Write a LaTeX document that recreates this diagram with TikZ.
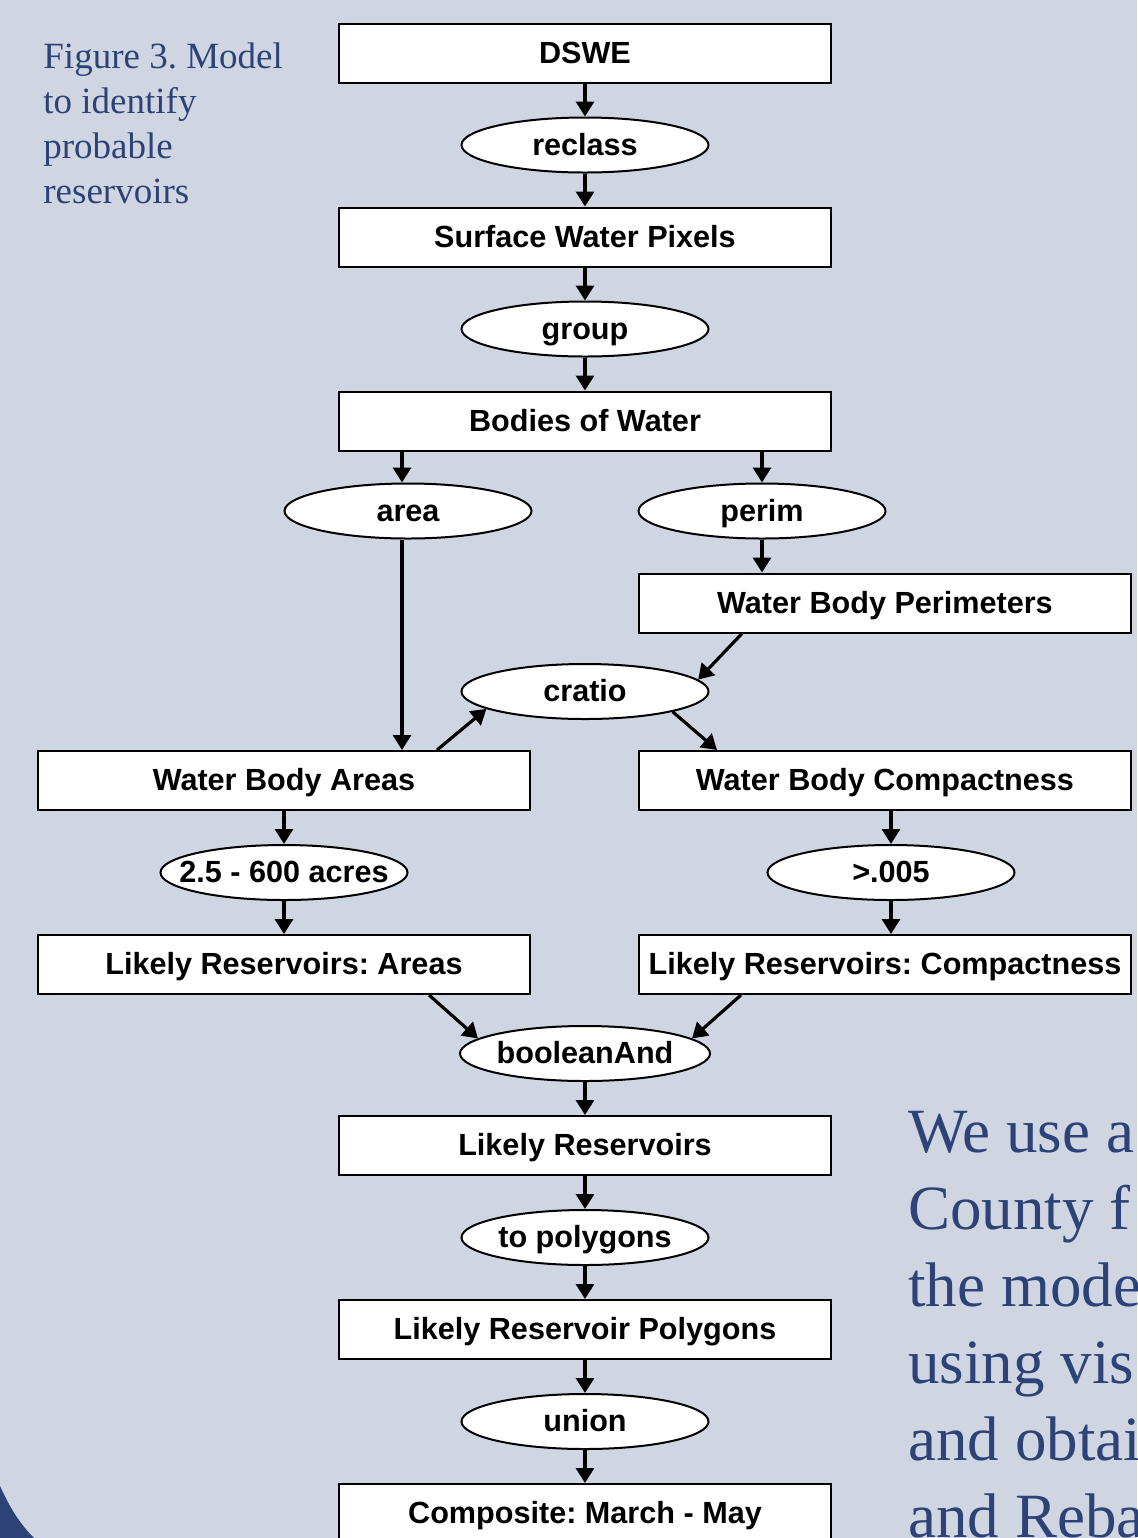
\documentclass[tikz,border=0pt]{standalone}
\usepackage{fontspec}
\setmainfont{Liberation Serif}
\setsansfont{Liberation Sans}
\usetikzlibrary{positioning,shapes.geometric,arrows.meta}
\frenchspacing

\definecolor{slide}{RGB}{208,213,226}
\definecolor{ink}{RGB}{45,67,120}

\tikzset{
  dataset/.style={draw, line width=1pt, fill=white, rectangle, inner sep=0pt,
    text height=10pt, text depth=0pt,
    minimum width=246pt, minimum height=29.5pt, font=\sffamily\bfseries\fontsize{15.3}{18}\selectfont},
  tool/.style={draw, line width=1pt, fill=white, ellipse, inner sep=0pt,
    text height=10pt, text depth=0pt,
    minimum width=123.5pt, minimum height=27.5pt, font=\sffamily\bfseries\fontsize{15.3}{18}\selectfont},
  flow/.style={line width=1.6pt, -{Triangle[width=9pt,length=7.5pt]}},
  note/.style={ink, align=left, inner sep=0pt, anchor=north west}
}

\begin{document}
\begin{tikzpicture}[x=0.5pt, y=-0.5pt, node distance=16.5pt]

  \useasboundingbox (0,0) rectangle (1137,1538);
  \clip (0,0) rectangle (1137,1538);
  \fill[slide] (0,0) rectangle (1137,1538);
  \fill[ink] (0,1486) .. controls (10,1508) and (20,1524) .. (34,1538) -- (0,1538) -- cycle;

  % Texts
  \node[note, font=\fontsize{18.5}{22.5}\selectfont] (figcap) at (43,42)
    {Figure 3. Model\\to identify\\probable\\reservoirs};
  \node[note, font=\fontsize{31.5}{38.5}\selectfont] (body) at (908,1111)
    {We use a\\County f\\the mode\\using vis\\and obtai\\and Reba};

  % Define nodes
  \node[dataset]                      (dswe)    at (585,53) {DSWE};
  \node[tool, below=of dswe]          (reclass) {reclass};
  \node[dataset, below=of reclass]    (swp)     {Surface Water Pixels};
  \node[tool, below=of swp]           (group)   {group};
  \node[dataset, below=of group]      (bow)     {Bodies of Water};
  \node[tool, below=15.5pt of bow, xshift=-88.5pt] (area)  {area};
  \node[tool, below=15.5pt of bow, xshift=88.5pt]  (perim) {perim};
  \node[dataset, below=of perim, xshift=61.5pt] (wbp) {Water Body Perimeters};
  \node[tool, below=105.75pt of bow]  (cratio)  {cratio};
  \node[dataset, below=15pt of cratio, xshift=-150.5pt] (wba) {Water Body Areas};
  \node[dataset, below=15pt of cratio, xshift=150pt]    (wbc) {Water Body Compactness};
  \node[tool, below=of wba]           (acres)   {\makebox[0pt]{2.5 - 600 acres}};
  \node[dataset, below=of acres]      (lra)     {Likely Reservoirs: Areas};
  \node[tool, below=of wbc, xshift=3pt] (gtval) {>.005};
  \node[dataset, below=of gtval, xshift=-3pt] (lrc) {Likely Reservoirs: Compactness};
  \node[tool, below=152.5pt of cratio] (band)   {booleanAnd};
  \node[dataset, below=of band]       (lr)      {Likely Reservoirs};
  \node[tool, below=of lr]            (topoly)  {to polygons};
  \node[dataset, below=of topoly]     (lrp)     {Likely Reservoir Polygons};
  \node[tool, below=of lrp]           (union)   {union};
  \node[dataset, below=of union]      (comp)    {Composite: March - May};

  % Connect the nodes
  \draw[flow] (dswe) -- (reclass);
  \draw[flow] (reclass) -- (swp);
  \draw[flow] (swp) -- (group);
  \draw[flow] (group) -- (bow);
  \draw[flow] ([xshift=-3pt]bow.south -| area) -- ([xshift=-3pt]area.north);
  \draw[flow] (bow.south -| perim) -- (perim);
  \draw[flow] (perim) -- (perim |- wbp.north);
  \draw[flow] ([xshift=-3pt]area.south) -- ([xshift=-3pt]area.south |- wba.north);
  \draw[flow] ([xshift=52pt]wbp.south west) -- (cratio.6);
  \draw[flow] ([xshift=-47pt]wba.north east) -- (cratio.190);
  \draw[flow] (cratio.-13) -- ([xshift=39.5pt]wbc.north west);
  \draw[flow] (wba) -- (acres);
  \draw[flow] (acres) -- (lra);
  \draw[flow] (wbc.south -| gtval) -- (gtval);
  \draw[flow] (gtval) -- (gtval |- lrc.north);
  \draw[flow] ([xshift=-51pt]lra.south east) -- (band.172);
  \draw[flow] ([xshift=51.5pt]lrc.south west) -- (band.8);
  \draw[flow] (band) -- (lr);
  \draw[flow] (lr) -- (topoly);
  \draw[flow] (topoly) -- (lrp);
  \draw[flow] (lrp) -- (union);
  \draw[flow] (union) -- (comp);

\end{tikzpicture}
\end{document}
